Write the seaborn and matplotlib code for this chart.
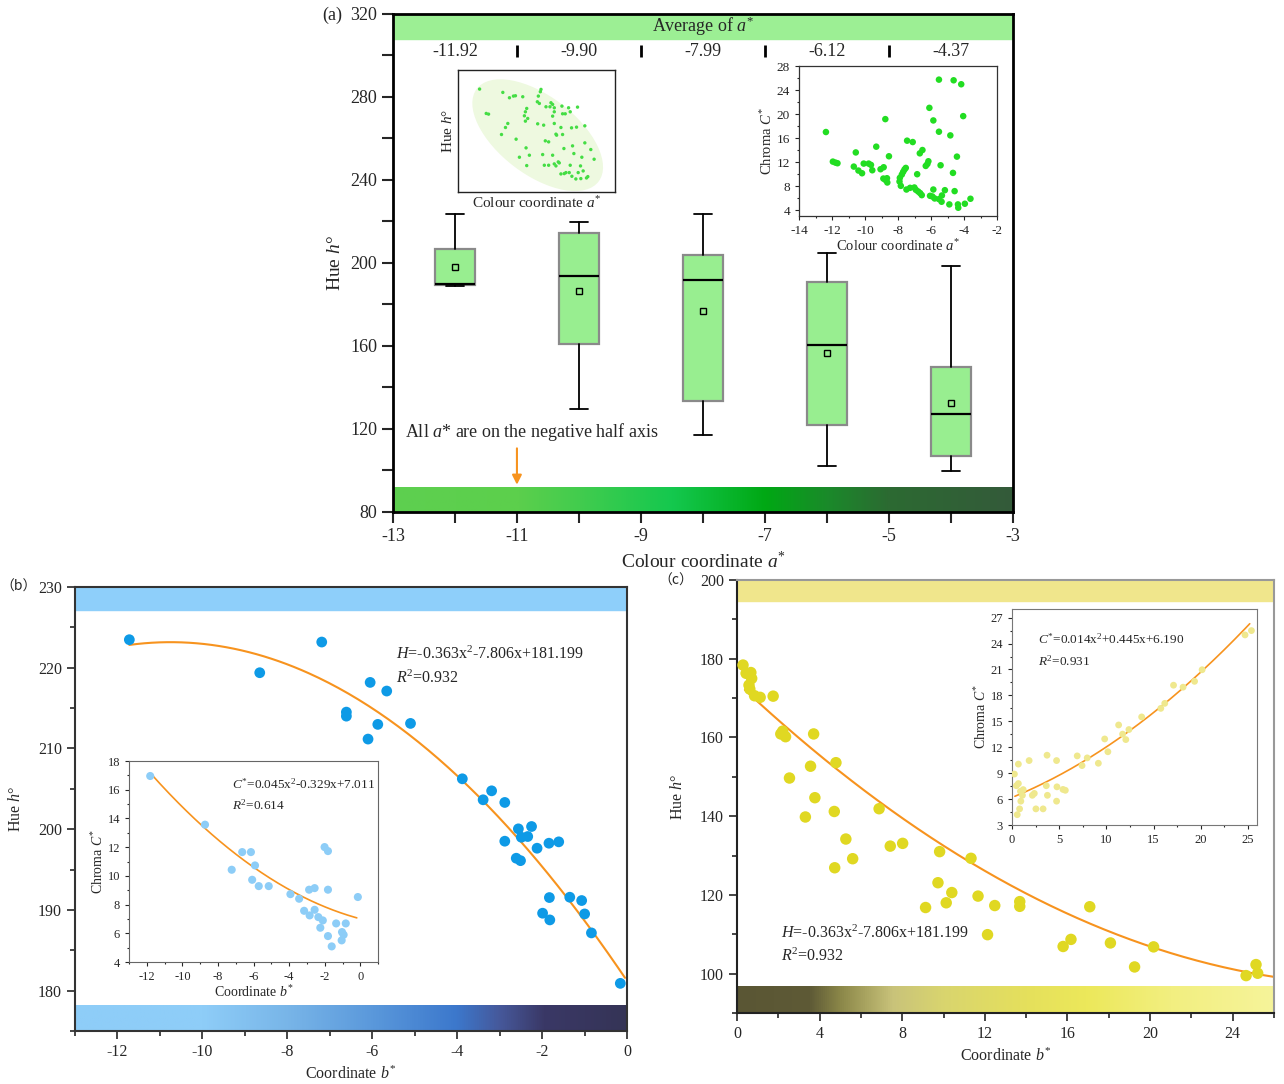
import numpy as np
import matplotlib
matplotlib.use("Agg")
import matplotlib.pyplot as plt
from matplotlib.colors import LinearSegmentedColormap
from matplotlib.patches import Ellipse
from matplotlib.ticker import MultipleLocator, FixedLocator
import seaborn as sns

sns.set_style("ticks")
plt.rcParams['font.family'] = ['Liberation Serif', 'Noto Sans CJK SC', 'DejaVu Serif']
plt.rcParams['axes.unicode_minus'] = False
plt.rcParams['mathtext.fontset'] = 'custom'
plt.rcParams['mathtext.rm'] = 'Liberation Serif'
plt.rcParams['mathtext.it'] = 'Liberation Serif:italic'
plt.rcParams['mathtext.bf'] = 'Liberation Serif:bold'


# ---- panel (a): box summary of hue per a* group ----
box_pos = [-12, -10, -8, -6, -4]
box_whislo = [188.9, 129.4, 117.0, 102.2, 99.6]
box_q1 = [189.2, 161.1, 133.4, 121.8, 107.0]
box_med = [189.7, 193.9, 191.8, 160.7, 127.0]
box_q3 = [206.6, 214.4, 203.8, 190.6, 149.8]
box_whishi = [223.6, 219.6, 223.6, 205.0, 198.5]
box_mean = [197.9, 186.3, 176.8, 156.4, 132.6]
avg_labels = ['-11.92', '-9.90', '-7.99', '-6.12', '-4.37']
sep_pos = [-11, -9, -7, -5]

# inset a1 (no scale, sketch units)
a1_x = [65, 135, 155, 167, 173, 195, 250, 248, 242, 239, 245, 280, 265, 277, 285, 290, 290, 285,
        313, 333, 360, 315, 323, 338, 207, 203, 200, 210, 85, 92, 150, 143, 131, 175, 203, 240,
        258, 290, 310, 342, 357, 382, 295, 297, 315, 263, 273, 382, 400, 319, 345, 205, 185, 215,
        255, 285, 349, 373, 410, 207, 260, 273, 290, 295, 302, 305, 338, 369, 325, 320, 310, 335,
        362, 377, 387, 391, 370, 343, 355]
a1_y = [308, 298, 282, 287, 288, 285, 307, 300, 287, 270, 265, 267, 255, 255, 262, 252, 240, 227,
        257, 252, 254, 234, 234, 240, 250, 240, 228, 220, 235, 233, 205, 193, 172, 158, 212, 204,
        200, 205, 193, 192, 194, 198, 173, 170, 172, 153, 150, 147, 127, 130, 138, 132, 104, 110,
        112, 110, 115, 104, 98, 79, 80, 80, 84, 78, 90, 87, 80, 78, 58, 55, 54, 58,
        58, 63, 42, 46, 40, 47, 39]

# inset a2: chroma vs a*
a2_x = [-12.37, -11.95, -11.79, -11.67, -10.68, -10.56, -10.40, -10.18, -10.08, -9.78, -9.64,
        -9.56, -9.32, -9.06, -8.87, -8.77, -8.89, -8.77, -8.67, -8.65, -8.55, -7.91, -7.83, -7.89,
        -7.77, -7.69, -7.61, -7.53, -7.45, -7.49, -7.27, -7.11, -7.01, -6.92, -6.84, -6.78, -6.66,
        -6.56, -6.68, -6.52, -6.32, -6.22, -6.16, -6.10, -6.06, -5.92, -5.86, -5.86, -5.78, -5.52,
        -5.52, -5.52, -5.42, -5.36, -5.34, -5.16, -4.89, -4.83, -4.67, -4.63, -4.57, -4.43, -4.37,
        -4.35, -4.17, -4.05, -3.95, -3.61]
a2_y = [17.0, 12.07, 11.9, 11.8, 11.24, 13.6, 10.58, 10.13, 11.74, 11.74, 11.52,
        10.63, 14.56, 10.8, 11.13, 19.15, 9.25, 9.03, 9.3, 8.59, 12.96, 8.75, 8.03, 9.36,
        9.91, 10.36, 10.75, 11.02, 15.56, 7.42, 7.70, 15.33, 7.76, 7.37, 9.97, 7.09, 6.82,
        6.48, 13.45, 14.0, 11.35, 11.68, 12.13, 21.03, 6.37, 6.26, 18.93, 7.42, 5.93, 25.73,
        17.05, 5.82, 11.46, 5.38, 6.43, 7.31, 4.94, 16.44, 10.19, 25.62, 7.15, 12.9, 4.94,
        4.38, 24.96, 19.65, 5.05, 5.88]

# ---- panel (b): hue vs b* (negative side) ----
b_x = [-11.72, -7.19, -8.65, -6.05, -5.66, -6.61, -6.61, -5.87, -5.10, -6.10, -3.88, -3.39,
       -3.19, -2.88, -2.56, -2.25, -2.49, -2.34, -2.88, -2.12, -1.84, -1.61, -2.61, -2.51,
       -1.83, -1.35, -1.07, -1.99, -1.82, -1.00, -0.84, -0.16]
b_y = [223.47, 223.18, 219.38, 218.18, 217.11, 214.5, 214.0, 212.98, 213.1, 211.16, 206.24, 203.64,
       204.75, 203.31, 200.04, 200.33, 199.0, 199.09, 198.51, 197.64, 198.26, 198.43, 196.4, 196.1,
       191.53, 191.57, 191.16, 189.59, 188.76, 189.5, 187.15, 180.9]
b_fit = [-0.363, -7.806, 181.199]

b_in_x = [-11.81, -8.73, -7.23, -6.64, -6.15, -5.92, -6.08, -5.71, -5.15, -3.93, -3.44, -3.16,
          -2.88, -2.57, -2.57, -2.85, -2.36, -2.11, -2.25, -2.01, -1.82, -1.82, -1.82, -1.61,
          -1.36, -1.03, -0.94, -1.05, -0.82, -0.14]
b_in_y = [16.96, 13.57, 10.43, 11.66, 11.66, 10.73, 9.73, 9.29, 9.29, 8.73, 8.41, 7.57,
          9.04, 9.15, 7.64, 7.25, 7.13, 6.90, 6.39, 12.01, 11.73, 9.04, 5.81, 5.09,
          6.69, 6.09, 5.90, 5.51, 6.69, 8.53]
b_in_fit = [0.045, -0.329, 7.011]

# ---- panel (c): hue vs b* (positive side) ----
c_x = [0.29, 0.44, 0.67, 0.71, 0.58, 0.62, 0.85, 1.12, 1.75, 2.12, 2.21, 2.35, 2.54, 3.71,
       3.56, 3.77, 3.31, 4.79, 4.71, 4.73, 5.27, 5.60, 6.88, 7.42, 8.02, 9.81, 9.73, 9.13,
       10.13, 10.40, 11.33, 11.67, 12.48, 12.13, 13.69, 13.69, 15.79, 16.17, 17.08, 18.08,
       19.25, 20.17, 24.65, 25.13, 25.21]
c_y = [178.4, 176.3, 176.5, 175.0, 173.3, 172.3, 170.6, 170.2, 170.5, 160.9, 161.6, 160.2, 149.7,
       160.9, 152.7, 144.7, 139.8, 153.6, 141.2, 126.9, 134.2, 129.2, 141.9, 132.4, 133.1, 131.0,
       123.1, 116.8, 118.0, 120.6, 129.3, 119.7, 117.3, 109.9, 118.3, 117.1, 106.9, 108.7, 117.0,
       107.8, 101.7, 106.8, 99.5, 102.3, 100.1]
c_fit = [0.0794, -4.941, 173.97]

c_in_x = [0.25, 0.46, 0.67, 0.55, 0.80, 0.93, 1.10, 1.18, 0.67, 0.89, 1.81, 2.15, 2.36, 2.53,
          3.29, 3.71, 3.75, 3.63, 4.72, 4.72, 4.76, 5.40, 5.65, 6.91, 7.42, 7.97, 9.15, 9.82,
          10.16, 11.30, 11.72, 12.06, 12.39, 13.74, 15.77, 16.19, 17.12, 18.13, 19.35, 20.15,
          24.70, 25.38]
c_in_y = [8.9, 7.55, 10.05, 4.2, 4.87, 5.76, 6.44, 7.1, 7.8, 6.9, 10.46, 6.44, 6.66, 4.87,
          4.87, 11.08, 6.44, 7.55, 10.46, 5.76, 7.42, 7.12, 7.02, 11.0, 9.88, 10.77, 10.15, 12.96,
          11.48, 14.58, 13.52, 12.89, 14.05, 15.51, 16.5, 17.08, 19.18, 18.95, 19.63, 20.97,
          25.0, 25.5]
c_in_fit = [0.014, 0.445, 6.190]

ORANGE = '#f7931e'


def gradient_band(ax, x0, x1, y0, y1, stops):
    cmap = LinearSegmentedColormap.from_list('band', stops)
    ax.imshow(np.linspace(0, 1, 512).reshape(1, -1), cmap=cmap, aspect='auto',
              extent=(x0, x1, y0, y1), zorder=0, interpolation='bilinear')


def fit_line(ax, coefs, x0, x1, lw=1.5):
    xs = np.linspace(x0, x1, 200)
    sns.lineplot(x=xs, y=np.polyval(coefs, xs), ax=ax, color=ORANGE, lw=lw, zorder=2)


def style_ticks(ax, size, labelsize, width=1.0):
    ax.tick_params(which='both', direction='out', width=width, labelsize=labelsize,
                   top=False, right=False)
    ax.tick_params(which='major', length=size)
    ax.tick_params(which='minor', length=size * 0.6)


fig = plt.figure(figsize=(12.84, 10.84), dpi=100)

# ================= panel (a) =================
ax = fig.add_axes([0.306, 0.5277, 0.483, 0.4594])
gradient_band(ax, -13, -3, 80, 91.6,
              [(0, '#5ecf50'), (0.2, '#5ccf4c'), (0.3, '#42cc4e'), (0.45, '#14c84e'),
               (0.6, '#00a814'), (0.7, '#1a8a2a'), (0.8, '#2c6a32'), (1, '#345a3a')])
ax.axhspan(308, 320, color='#9cef94', zorder=0)

stats = [dict(whislo=lo, q1=q1, med=md, q3=q3, whishi=hi, mean=mn)
         for lo, q1, md, q3, hi, mn in zip(box_whislo, box_q1, box_med, box_q3, box_whishi, box_mean)]
ax.bxp(stats, positions=box_pos, widths=0.65, showmeans=True, showfliers=False,
       patch_artist=True, capwidths=0.3,
       boxprops=dict(facecolor='#98ee90', edgecolor='#8a8a8a', lw=1.6),
       medianprops=dict(color='k', lw=1.6),
       whiskerprops=dict(color='k', lw=1.3),
       capprops=dict(color='k', lw=1.3),
       meanprops=dict(marker='s', markerfacecolor='#98ee90', markeredgecolor='k',
                      markersize=5, markeredgewidth=1))

ax.text(-8, 314, r'Average of $a^{*}$', ha='center', va='center', fontsize=13)
for p, lab in zip(box_pos, avg_labels):
    ax.text(p, 302, lab, ha='center', va='center', fontsize=13)
ax.vlines(sep_pos, 299.5, 305, color='k', lw=2)

ax.text(-12.8, 118.5, r'All $a$* are on the negative half axis', ha='left', va='center', fontsize=13)
ax.annotate('', xy=(-11, 91.8), xytext=(-11, 112),
            arrowprops=dict(arrowstyle='-|>', color=ORANGE, lw=1.5, mutation_scale=14))

ax.set_xlim(-13, -3)
ax.set_ylim(80, 320)
ax.xaxis.set_major_locator(FixedLocator([-13, -11, -9, -7, -5, -3]))
ax.xaxis.set_minor_locator(FixedLocator([-12, -10, -8, -6, -4]))
ax.yaxis.set_major_locator(MultipleLocator(40))
ax.yaxis.set_minor_locator(MultipleLocator(20))
ax.xaxis.set_major_formatter(plt.FuncFormatter(lambda v, p: f'{v:.0f}'))
style_ticks(ax, 8, 13, 1.5)
ax.tick_params(which='minor', length=8)
ax.set_xlabel(r'Colour coordinate $a^{*}$', fontsize=14, labelpad=4)
ax.set_ylabel(r'Hue $h$°', fontsize=14, labelpad=4)
for s in ax.spines.values():
    s.set_linewidth(2)
    s.set_color('k')
fig.text(0.251, 0.986, '(a)', fontsize=13, ha='left', va='center')

# inset a1
ax1 = fig.add_axes([0.3567, 0.8229, 0.1223, 0.1125])
ax1.add_patch(Ellipse((240, 170), 460, 235, angle=-37, color='#eef9e0', zorder=0, lw=0))
sns.scatterplot(x=a1_x, y=a1_y, ax=ax1, color='#44dd44', s=6, edgecolor='none', zorder=2)
ax1.set_xlim(0, 473)
ax1.set_ylim(0, 365)
ax1.set_xticks([])
ax1.set_yticks([])
ax1.set_xlabel(r'Colour coordinate $a^{*}$', fontsize=11, labelpad=2)
ax1.set_ylabel(r'Hue $h$°', fontsize=11, labelpad=2)
for s in ax1.spines.values():
    s.set_linewidth(1.0)
    s.set_color('#222222')

# inset a2
ax2 = fig.add_axes([0.6223, 0.8007, 0.1542, 0.1384])
sns.scatterplot(x=a2_x, y=a2_y, ax=ax2, color='#22dd22', s=22, edgecolor='none')
ax2.set_xlim(-14, -2)
ax2.set_ylim(3, 28)
ax2.xaxis.set_major_locator(MultipleLocator(2))
ax2.xaxis.set_minor_locator(MultipleLocator(1))
ax2.yaxis.set_major_locator(MultipleLocator(4))
ax2.yaxis.set_minor_locator(MultipleLocator(2))
style_ticks(ax2, 3, 9.5, 0.8)
ax2.set_xlabel(r'Colour coordinate $a^{*}$', fontsize=10.5, labelpad=1)
ax2.set_ylabel(r'Chroma $C^{*}$', fontsize=10.5, labelpad=1)
for s in ax2.spines.values():
    s.set_linewidth(0.9)
    s.set_color('#333333')

# ================= panel (b) =================
bx = fig.add_axes([0.0584, 0.0489, 0.43, 0.4096])
gradient_band(bx, -13, 0, 175, 178.1,
              [(0, '#8ecdf8'), (0.23, '#8ecdf8'), (0.385, '#78b5e8'), (0.54, '#5a98db'),
               (0.69, '#3c78cc'), (0.77, '#46589a'), (0.85, '#3a3866'), (1, '#353456')])
bx.axhspan(227.2, 230, color='#8ecffa', zorder=0)
sns.scatterplot(x=b_x, y=b_y, ax=bx, color='#0e9ae6', s=60, edgecolor='none', zorder=3)
fit_line(bx, b_fit, -11.72, -0.05)
bx.text(-5.45, 221.6, r'$H$=-0.363x$^{2}$-7.806x+181.199', fontsize=11.5, ha='left', va='center')
bx.text(-5.45, 218.7, r'$R^{2}$=0.932', fontsize=11.5, ha='left', va='center')
bx.set_xlim(-13, 0)
bx.set_ylim(175, 230)
bx.xaxis.set_major_locator(MultipleLocator(2))
bx.xaxis.set_minor_locator(MultipleLocator(1))
bx.yaxis.set_major_locator(MultipleLocator(10))
bx.yaxis.set_minor_locator(MultipleLocator(5))
style_ticks(bx, 6, 11.5, 1.2)
bx.set_xlabel(r'Coordinate $b^{*}$', fontsize=11.5, labelpad=4)
bx.set_ylabel(r'Hue $h$°', fontsize=11.5, labelpad=10)
for s in bx.spines.values():
    s.set_linewidth(1.5)
    s.set_color('#333333')
fig.text(0.0, 0.4585, '（b）', fontsize=10, ha='left', va='center',
         family=['Noto Sans CJK SC', 'Liberation Serif'])

# inset b
bi = fig.add_axes([0.1005, 0.1125, 0.194, 0.1854])
sns.scatterplot(x=b_in_x, y=b_in_y, ax=bi, color='#8dcdf7', s=34, edgecolor='none', zorder=3)
fit_line(bi, b_in_fit, -11.8, -0.2, lw=1.2)
bi.text(-7.2, 16.4, r'$C^{*}$=0.045x$^{2}$-0.329x+7.011', fontsize=9.5, ha='left', va='center')
bi.text(-7.2, 14.95, r'$R^{2}$=0.614', fontsize=9.5, ha='left', va='center')
bi.set_xlim(-13, 1)
bi.set_ylim(4, 18)
bi.xaxis.set_major_locator(MultipleLocator(2))
bi.xaxis.set_minor_locator(MultipleLocator(1))
bi.yaxis.set_major_locator(MultipleLocator(2))
bi.yaxis.set_minor_locator(MultipleLocator(1))
style_ticks(bi, 3, 9, 0.8)
bi.set_xlabel(r'Coordinate $b^{*}$', fontsize=10, labelpad=1)
bi.set_ylabel(r'Chroma $C^{*}$', fontsize=10, labelpad=1)
for s in bi.spines.values():
    s.set_linewidth(0.8)
    s.set_color('#666666')

# ================= panel (c) =================
cx = fig.add_axes([0.574, 0.0655, 0.4182, 0.3994])
gradient_band(cx, 0, 26, 90, 96.7,
              [(0, '#5a5634'), (0.135, '#5e5a36'), (0.19, '#8a8648'), (0.29, '#c9c37a'),
               (0.385, '#d9d56e'), (0.54, '#e5e05c'), (0.65, '#ece85a'), (0.81, '#f2ef80'),
               (1, '#f6f49a')])
cx.axhspan(194.6, 200, color='#f0e68c', zorder=0)
sns.scatterplot(x=c_x, y=c_y, ax=cx, color='#e0d822', s=68, edgecolor='none', zorder=3)
fit_line(cx, c_fit, 0.38, 26)
cx.text(2.15, 110.2, r'$H$=-0.363x$^{2}$-7.806x+181.199', fontsize=11.5, ha='left', va='center')
cx.text(2.15, 104.5, r'$R^{2}$=0.932', fontsize=11.5, ha='left', va='center')
cx.set_xlim(0, 26)
cx.set_ylim(90, 200)
cx.xaxis.set_major_locator(MultipleLocator(4))
cx.xaxis.set_minor_locator(MultipleLocator(2))
cx.yaxis.set_major_locator(MultipleLocator(20))
cx.yaxis.set_minor_locator(MultipleLocator(10))
style_ticks(cx, 6, 11.5, 1.2)
cx.set_xlabel(r'Coordinate $b^{*}$', fontsize=11.5, labelpad=4)
cx.set_ylabel(r'Hue $h$°', fontsize=11.5, labelpad=10)
for name, s in cx.spines.items():
    s.set_linewidth(1.5)
    s.set_color('#222222' if name in ('left', 'bottom') else '#999999')
fig.text(0.513, 0.464, '（c）', fontsize=10, ha='left', va='center',
         family=['Noto Sans CJK SC', 'Liberation Serif'])

# inset c
ci = fig.add_axes([0.7882, 0.2389, 0.191, 0.1993])
sns.scatterplot(x=c_in_x, y=c_in_y, ax=ci, color='#efe88e', s=24, edgecolor='none', zorder=3)
fit_line(ci, c_in_fit, 0.3, 25.2, lw=1.2)
ci.text(2.7, 24.5, r'$C^{*}$=0.014x$^{2}$+0.445x+6.190', fontsize=9.5, ha='left', va='center')
ci.text(2.7, 22.0, r'$R^{2}$=0.931', fontsize=9.5, ha='left', va='center')
ci.set_xlim(0, 26)
ci.set_ylim(3, 28)
ci.xaxis.set_major_locator(MultipleLocator(5))
ci.xaxis.set_minor_locator(MultipleLocator(2.5))
ci.yaxis.set_major_locator(MultipleLocator(3))
ci.yaxis.set_minor_locator(MultipleLocator(1.5))
style_ticks(ci, 3, 9, 0.8)
ci.set_ylabel(r'Chroma $C^{*}$', fontsize=10, labelpad=1)
for s in ci.spines.values():
    s.set_linewidth(0.8)
    s.set_color('#777777')

fig.savefig('out.png', dpi=100)
